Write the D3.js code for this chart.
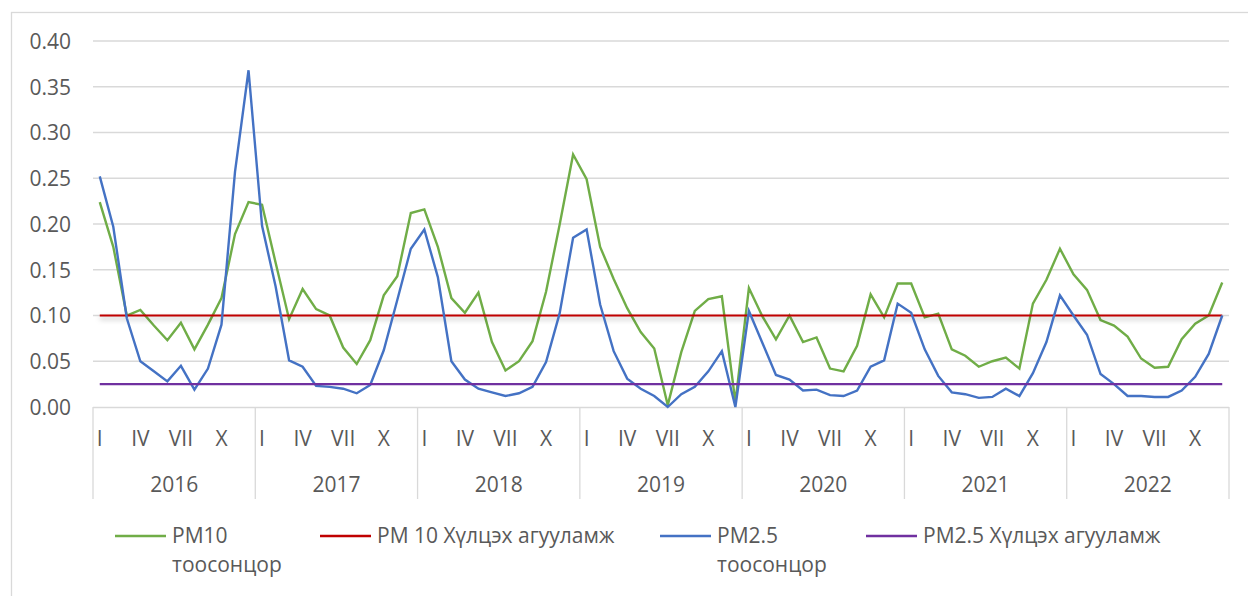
<!DOCTYPE html>
<html>
<head>
<meta charset="utf-8">
<script src="https://cdn.jsdelivr.net/npm/d3@7"></script>
<style>
  html, body { margin: 0; padding: 0; background: #fff; }
  svg { display: block; font-family: "Open Sans", "Noto Sans", sans-serif; }
</style>
</head>
<body>
<svg id="chart" width="1248" height="596"></svg>
<script>
// Monthly mean concentrations, mg/m³, January 2016 – December 2022
const years = ["2016", "2017", "2018", "2019", "2020", "2021", "2022"];
const monthNames = ["I", "II", "III", "IV", "V", "VI", "VII", "VIII", "IX", "X", "XI", "XII"];
const shownMonths = ["I", "IV", "VII", "X"];
const yTicks = [0, 0.05, 0.10, 0.15, 0.20, 0.25, 0.30, 0.35, 0.40];

const pm10 = [
  0.224, 0.175, 0.100, 0.106, 0.089, 0.073, 0.092, 0.063, 0.090, 0.119, 0.189, 0.224,
  0.221, 0.158, 0.096, 0.129, 0.107, 0.100, 0.065, 0.047, 0.073, 0.122, 0.143, 0.212,
  0.216, 0.175, 0.119, 0.103, 0.125, 0.071, 0.040, 0.050, 0.072, 0.126, 0.199, 0.276,
  0.249, 0.175, 0.140, 0.108, 0.082, 0.064, 0.002, 0.060, 0.105, 0.118, 0.121, 0.005,
  0.130, 0.099, 0.074, 0.100, 0.071, 0.076, 0.042, 0.039, 0.067, 0.123, 0.098, 0.135,
  0.135, 0.098, 0.102, 0.063, 0.056, 0.044, 0.050, 0.054, 0.042, 0.113, 0.139, 0.173,
  0.145, 0.128, 0.095, 0.089, 0.077, 0.053, 0.043, 0.044, 0.074, 0.091, 0.100, 0.136
];

const pm25 = [
  0.252, 0.197, 0.097, 0.050, 0.039, 0.028, 0.045, 0.019, 0.042, 0.090, 0.257, 0.368,
  0.198, 0.132, 0.051, 0.044, 0.023, 0.022, 0.020, 0.015, 0.024, 0.062, 0.117, 0.173,
  0.194, 0.142, 0.050, 0.030, 0.020, 0.016, 0.012, 0.015, 0.022, 0.049, 0.102, 0.185,
  0.194, 0.112, 0.061, 0.031, 0.020, 0.012, 0.000, 0.014, 0.022, 0.039, 0.061, 0.000,
  0.105, 0.070, 0.035, 0.030, 0.018, 0.019, 0.013, 0.012, 0.018, 0.044, 0.051, 0.113,
  0.103, 0.063, 0.034, 0.016, 0.014, 0.010, 0.011, 0.020, 0.012, 0.037, 0.071, 0.122,
  0.100, 0.079, 0.036, 0.025, 0.012, 0.012, 0.011, 0.011, 0.018, 0.033, 0.058, 0.100
];

// Permissible levels
const pm10Limit = 0.10;
const pm25Limit = 0.025;

const legendItems = [
  { lines: ["PM10", "тоосонцор"], color: "#70AD47" },
  { lines: ["PM 10 Хүлцэх агууламж"], color: "#C00000" },
  { lines: ["PM2.5", "тоосонцор"], color: "#4472C4" },
  { lines: ["PM2.5 Хүлцэх агууламж"], color: "#7030A0" }
];

// ---- layout ----
const plot = { left: 93, right: 1229, top: 41, bottom: 407 };
const textColor = "#595959";
const gridColor = "#D9D9D9";
const fontSize = 21;

const svg = d3.select("#chart");

// chart area frame
svg.append("rect")
  .attr("x", 11.5).attr("y", 12.5)
  .attr("width", 1300).attr("height", 700)
  .attr("fill", "#fff").attr("stroke", gridColor).attr("stroke-width", 1.3);

// soft shadow under the PM10 limit line (user-space region: the line has no height)
const defs = svg.append("defs");
const f = defs.append("filter").attr("id", "limitShadow")
  .attr("filterUnits", "userSpaceOnUse")
  .attr("x", 0).attr("y", 0).attr("width", 1248).attr("height", 596);
f.append("feDropShadow").attr("dx", 0).attr("dy", 3).attr("stdDeviation", 2.6)
  .attr("flood-color", "#000").attr("flood-opacity", 0.28);

// one band per month
const keys = [];
years.forEach(y => monthNames.forEach(m => keys.push(y + "-" + m)));

const x = d3.scaleBand().domain(keys).range([plot.left, plot.right]).paddingInner(0).paddingOuter(0);
const xc = k => x(k) + x.bandwidth() / 2;
const y = d3.scaleLinear().domain([0, 0.4]).range([plot.bottom, plot.top]);

// horizontal gridlines
svg.append("g").selectAll("line")
  .data(yTicks.filter(t => t > 0))
  .join("line")
  .attr("x1", plot.left).attr("x2", plot.right)
  .attr("y1", d => y(d)).attr("y2", d => y(d))
  .attr("stroke", gridColor).attr("stroke-width", 1.3);

// value axis labels
const yAxis = d3.axisLeft(y).tickValues(yTicks).tickFormat(d3.format(".2f")).tickSize(0).tickPadding(0);
const yg = svg.append("g").attr("transform", `translate(71,0)`).call(yAxis);
yg.select(".domain").remove();
yg.selectAll("text")
  .attr("fill", textColor).attr("font-size", fontSize)
  .attr("font-family", "'Open Sans', sans-serif")
  .attr("dy", "0.35em");

// multi-level category axis: month labels and year boxes
const axisG = svg.append("g");
axisG.append("line")
  .attr("x1", plot.left).attr("x2", plot.right)
  .attr("y1", plot.bottom + 0.5).attr("y2", plot.bottom + 0.5)
  .attr("stroke", gridColor).attr("stroke-width", 1.3);

const yearStart = yr => x(yr + "-I");
const yearEnd = yr => x(yr + "-XII") + x.bandwidth();
const boundaries = years.map(yearStart).concat([yearEnd(years[years.length - 1])]);
axisG.selectAll("line.sep")
  .data(boundaries)
  .join("line").attr("class", "sep")
  .attr("x1", d => d).attr("x2", d => d)
  .attr("y1", plot.bottom).attr("y2", 499)
  .attr("stroke", gridColor).attr("stroke-width", 1.3);

const monthTicks = keys.filter(k => shownMonths.includes(k.split("-")[1]));
axisG.selectAll("text.month")
  .data(monthTicks)
  .join("text").attr("class", "month")
  .attr("x", d => xc(d)).attr("y", 446)
  .attr("text-anchor", "middle")
  .attr("fill", textColor).attr("font-size", fontSize)
  .text(d => d.split("-")[1]);

axisG.selectAll("text.year")
  .data(years)
  .join("text").attr("class", "year")
  .attr("x", d => (yearStart(d) + yearEnd(d)) / 2).attr("y", 492)
  .attr("text-anchor", "middle")
  .attr("fill", textColor).attr("font-size", fontSize)
  .text(d => d);

// series
const line = d3.line().x((d, i) => xc(keys[i])).y(d => y(d));

svg.append("path").datum(pm10)
  .attr("d", line).attr("fill", "none")
  .attr("stroke", "#70AD47").attr("stroke-width", 2.4);

svg.append("line")
  .attr("x1", xc(keys[0])).attr("x2", xc(keys[keys.length - 1]))
  .attr("y1", y(pm10Limit)).attr("y2", y(pm10Limit))
  .attr("stroke", "#C00000").attr("stroke-width", 2.2)
  .attr("filter", "url(#limitShadow)");

svg.append("path").datum(pm25)
  .attr("d", line).attr("fill", "none")
  .attr("stroke", "#4472C4").attr("stroke-width", 2.4);

svg.append("line")
  .attr("x1", xc(keys[0])).attr("x2", xc(keys[keys.length - 1]))
  .attr("y1", y(pm25Limit)).attr("y2", y(pm25Limit))
  .attr("stroke", "#7030A0").attr("stroke-width", 2.4);

// legend
const legendX = [115, 320, 660, 866];
const lg = svg.append("g");
legendItems.forEach((item, i) => {
  const g = lg.append("g").attr("transform", `translate(${legendX[i]},0)`);
  g.append("line").attr("x1", 0).attr("x2", 51).attr("y1", 536).attr("y2", 536)
    .attr("stroke", item.color).attr("stroke-width", 2.4);
  const t = g.append("text").attr("x", 57).attr("y", 543)
    .attr("fill", textColor).attr("font-size", fontSize);
  item.lines.forEach((ln, j) => {
    t.append("tspan").attr("x", 57).attr("dy", j === 0 ? 0 : 29).text(ln);
  });
});
</script>
</body>
</html>
